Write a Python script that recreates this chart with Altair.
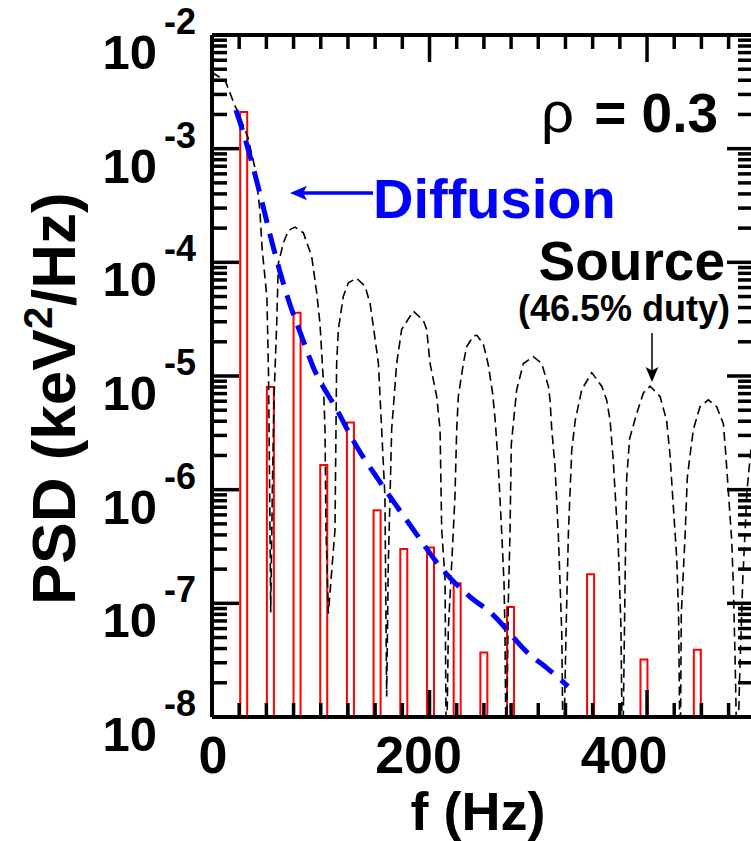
import altair as alt
import pandas as pd

# ---------------- data ----------------
# red histogram bars (frequency in Hz, PSD in keV^2/Hz)
bar_f = [25, 50, 75, 100, 125, 150, 175, 200, 225, 250, 275, 350, 400, 450]
bar_psd = [2.1e-3, 8.0e-6, 3.6e-5, 1.65e-6, 3.9e-6, 6.6e-7, 3.0e-7, 3.1e-7,
           1.5e-7, 3.7e-8, 9.3e-8, 1.8e-7, 3.2e-8, 3.9e-8]
bar_base = 1e-8  # bars start at the bottom of the axis

# blue dashed "Diffusion" curve (log10 of PSD)
diff_f = [22, 30, 38, 46, 54, 63, 72, 82, 93, 115, 133, 155, 185, 210, 237, 256, 292, 308, 327.4]
diff_log10 = [-2.66, -2.90, -3.17, -3.47, -3.78, -4.10, -4.38, -4.64, -4.92, -5.30, -5.62,
              -5.94, -6.35, -6.68, -6.94, -7.08, -7.45, -7.57, -7.73]

# black dashed "Source" curve (log10 of PSD)
src_f = [0, 12, 21, 24, 33, 40, 44, 46, 50.5, 52, 53, 54,
         55.5, 57, 59.5, 61, 65.6, 70.2, 76.3, 84, 91.7, 96.3, 99.3, 102.3, 103.9, 104.8, 107,
         113.1, 114, 114.6, 116.2, 120.7, 125.4, 133, 140.7, 145.3, 148.3, 153, 156, 159, 160.6,
         162.1, 163.7, 165.2, 169.8, 174.4, 185.1, 194.3, 197.4, 200.5, 206.6, 209.7, 211.2, 214.3, 215.5,
         217.3, 220.4, 223.4, 225, 226.5, 231.1, 234.2, 240.3, 243.4, 249.5, 254, 258, 260.5, 263.3,
         266.4, 268.5, 269.4, 270.5,
         272.5, 274, 275.2, 278.6, 280.2, 286.3, 295.5, 303.2, 309.3, 310.8, 312.4, 315.4, 318.4, 321.6, 323,
         325.5, 327.7, 330.8, 334, 340, 349.2, 358.3, 362.9, 366, 369, 373.6, 376, 377.5,
         380, 381.3, 384, 390.5, 396.6, 402.8, 412, 418, 421, 424, 427.3, 429, 430.5,
         431.5, 435, 437, 439.5, 442.6, 448.7, 456.4, 464, 470.2, 472.5, 475, 477.9, 479.4, 481, 483,
         485, 488, 492, 496]
src_log10 = [-2.33, -2.40, -2.62, -2.68, -2.90, -3.19, -3.54, -3.87, -4.31, -5.0, -6.0, -7.08,
             -6.0, -5.2, -4.54, -4.01, -3.83, -3.72, -3.69, -3.74, -3.95, -4.27, -4.54, -5.03, -5.47, -6.35, -7.09,
             -6.35, -5.47, -4.89, -4.59, -4.30, -4.18, -4.14, -4.21, -4.36, -4.56, -4.89, -5.47, -6.06, -7.82,
             -6.65, -6.06, -5.47, -4.89, -4.59, -4.43, -4.51, -4.59, -4.89, -5.18, -5.47, -6.35, -6.79, -8.5,
             -7.23, -6.65, -6.06, -5.47, -5.18, -4.89, -4.74, -4.65, -4.64, -4.72, -4.90, -5.15, -5.40, -5.80,
             -6.38, -6.82, -7.26, -8.5,
             -6.97, -6.38, -5.60, -5.27, -5.12, -4.89, -4.83, -4.89, -5.09, -5.21, -5.47, -5.80, -6.38, -7.26, -8.5,
             -7.26, -6.38, -5.65, -5.39, -5.12, -4.97, -5.09, -5.21, -5.39, -5.75, -6.50, -7.20, -8.5,
             -6.68, -5.90, -5.55, -5.33, -5.15, -5.09, -5.18, -5.39, -5.68, -6.12, -6.60, -7.10, -8.5,
             -7.10, -6.40, -5.90, -5.70, -5.47, -5.27, -5.21, -5.27, -5.42, -5.70, -6.05, -6.45, -6.85, -7.50, -8.5,
             -7.70, -6.80, -6.00, -5.60]

# axis ticks and labels
x_minor = [25, 50, 75, 100, 125, 150, 175, 225, 250, 275, 300, 325, 350, 375, 425, 450, 475]
x_major = [200, 400]
x_label_val = [0, 200, 400]
x_label_txt = ["0", "200", "400"]
y_decades = [1e-2, 1e-3, 1e-4, 1e-5, 1e-6, 1e-7, 1e-8]
y_exponents = ["-2", "-3", "-4", "-5", "-6", "-7", "-8"]
y_major_inner = [1e-3, 1e-4, 1e-5, 1e-6, 1e-7]
y_minor = [k * 10.0 ** e for e in range(-8, -2) for k in range(2, 10)]

# ---------------- layout ----------------
W, H = 539, 682
XMAX = 495.6
FONT = "Liberation Sans"


def xs():
    return alt.Scale(domain=[0, XMAX], nice=False, zero=False)


def ys():
    return alt.Scale(type="log", domain=[1e-8, 1e-2], nice=False)


def X():
    return alt.X("f:Q", scale=xs(), axis=None)


def Y():
    return alt.Y("psd:Q", scale=ys(), axis=None)


bars_df = pd.DataFrame({"f": bar_f, "psd": bar_psd, "base": [bar_base] * len(bar_f)})
diff_df = pd.DataFrame({"f": diff_f, "psd": [10.0 ** v for v in diff_log10]})
src_df = pd.DataFrame({"f": src_f, "psd": [10.0 ** v for v in src_log10]})

bars = alt.Chart(bars_df).mark_bar(size=7, fill="white", fillOpacity=0, stroke="#ff0000",
                                   strokeWidth=2, clip=True).encode(
    x=X(), y=Y(), y2=alt.Y2("base:Q"))

src = alt.Chart(src_df).mark_line(color="black", strokeWidth=1.6, strokeDash=[9, 5],
                                  clip=True).encode(x=X(), y=Y())

diff = alt.Chart(diff_df).mark_line(color="#0000ff", strokeWidth=5, strokeDash=[21, 11],
                                    interpolate="monotone", clip=True).encode(x=X(), y=Y())

TW = 3.5
xminor_df = pd.DataFrame({"f": x_minor})
xmajor_df = pd.DataFrame({"f": x_major})
yminor_df = pd.DataFrame({"psd": y_minor})
ymajor_df = pd.DataFrame({"psd": y_major_inner})


def xtick(df, yc, length):
    return alt.Chart(df).mark_tick(color="black", orient="vertical", size=length,
                                   thickness=TW, opacity=1).encode(x=X(), y=alt.value(yc))


def ytick(df, xc, length):
    return alt.Chart(df).mark_tick(color="black", orient="horizontal", size=length,
                                   thickness=TW, opacity=1).encode(y=Y(), x=alt.value(xc))


ticks = [
    xtick(xminor_df, H - 7, 14), xtick(xmajor_df, H - 13.5, 27),
    xtick(xminor_df, 7, 14), xtick(xmajor_df, 13.5, 27),
    ytick(yminor_df, 7.5, 15), ytick(ymajor_df, 13.5, 27),
    ytick(yminor_df, W - 6.5, 13), ytick(ymajor_df, W - 12, 24),
]

one = pd.DataFrame({"a": [0]})
frame = [
    alt.Chart(one).mark_rule(color="black", strokeWidth=4).encode(
        x=alt.value(0), x2=alt.value(W), y=alt.value(0)),
    alt.Chart(one).mark_rule(color="black", strokeWidth=4).encode(
        x=alt.value(0), x2=alt.value(W), y=alt.value(H)),
    alt.Chart(one).mark_rule(color="black", strokeWidth=4).encode(
        x=alt.value(0), y=alt.value(0), y2=alt.value(H)),
]


def txt(s, x, y, size, color="black", weight="bold", align="left", angle=0):
    return alt.Chart(pd.DataFrame({"t": [s]})).mark_text(
        align=align, baseline="alphabetic", fontSize=size, fontWeight=weight,
        font=FONT, color=color, angle=angle).encode(
        text="t:N", x=alt.value(x), y=alt.value(y))


# y tick labels 10^n
ylab_df = pd.DataFrame({"psd": y_decades, "e": y_exponents})
ylab10 = alt.Chart(ylab_df).mark_text(text="10", align="right", baseline="alphabetic", dy=34,
                                      fontSize=49, fontWeight="bold", font=FONT,
                                      color="black").encode(y=Y(), x=alt.value(-55))
ylabexp = alt.Chart(ylab_df).mark_text(align="left", baseline="alphabetic", fontSize=36, dy=-1,
                                       fontWeight="bold", font=FONT, color="black").encode(
    y=Y(), x=alt.value(-48), text="e:N")

# x tick labels (in the figure they sit slightly left of their ticks)
xlab_df = pd.DataFrame({"f": x_label_val, "t": x_label_txt})
xlab = alt.Chart(xlab_df).mark_text(align="center", baseline="alphabetic", fontSize=52,
                                    fontWeight="bold", font=FONT, color="black").encode(
    x=alt.X("f:Q", scale=alt.Scale(domain=[0, 400], range=[1, 412], nice=False, zero=False),
            axis=None),
    y=alt.value(H + 56), text="t:N")

texts = [
    txt("f (Hz)", 266, H + 113, 54, align="center"),
    txt("PSD (keV", -137, 570, 62, angle=270),
    txt("2", -160, 294, 40, angle=270),
    txt("/Hz)", -137, 271, 62, angle=270),
    txt("ρ", 362, 97, 58, weight="normal", align="right"),
    txt("= 0.3", 506, 97, 55, align="right"),
    txt("Diffusion", 161, 183, 56, color="#0000ff"),
    txt("Source", 513, 245, 55, align="right"),
    txt("(46.5% duty)", 306, 286, 36),
]

arrows = [
    alt.Chart(one).mark_rule(color="#0000ff", strokeWidth=3.5).encode(
        x=alt.value(86), x2=alt.value(161), y=alt.value(158)),
    alt.Chart(one).mark_point(shape="M-1,0L1,-0.85L0.55,0L1,0.85Z", filled=True, size=289,
                              color="#0000ff", opacity=1, strokeWidth=0).encode(
        x=alt.value(86.5), y=alt.value(158)),
    alt.Chart(one).mark_rule(color="black", strokeWidth=1.5).encode(
        x=alt.value(440), y=alt.value(298), y2=alt.value(340)),
    alt.Chart(one).mark_point(shape="M0,1L-0.85,-1L0,-0.55L0.85,-1Z", filled=True, size=225,
                              color="black", opacity=1, strokeWidth=0).encode(
        x=alt.value(440), y=alt.value(339.5)),
]

chart = alt.layer(
    bars, src, diff, *ticks, *frame, ylab10, ylabexp, xlab, *texts, *arrows
).resolve_scale(
    x="independent", y="independent"
).properties(
    width=W, height=H,
    autosize=alt.AutoSizeParams(type="none"),
    padding={"left": 212, "top": 35, "right": 0, "bottom": 124},
    background="white",
).configure_view(stroke=None)

chart.save("out.html", embed_options={"renderer": "svg", "actions": False})
